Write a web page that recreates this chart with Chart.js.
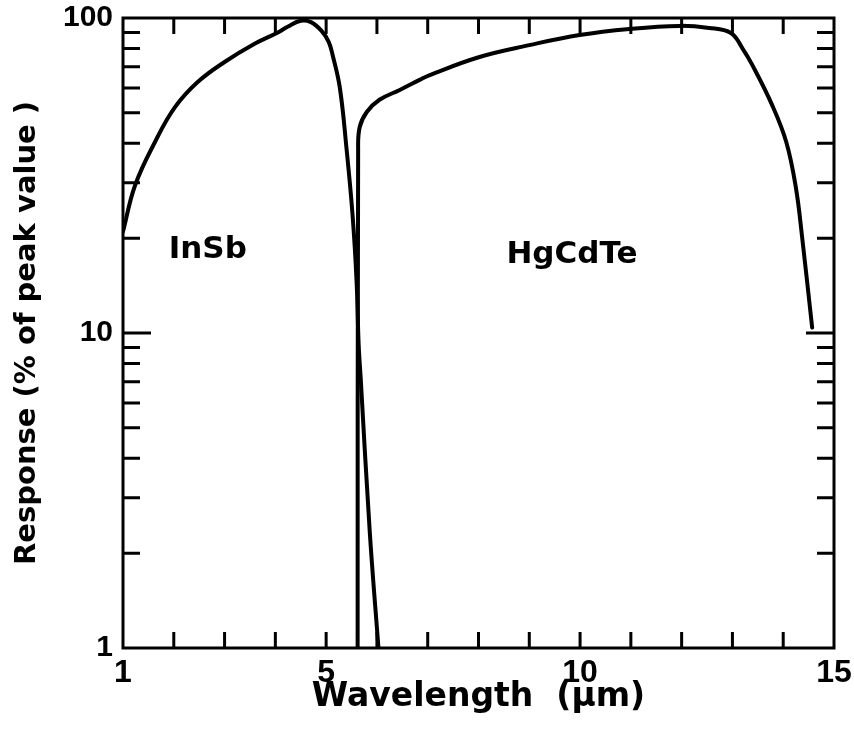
<!DOCTYPE html>
<html>
<head>
<meta charset="utf-8">
<title>Detector response: InSb and HgCdTe</title>
<script src="https://cdn.jsdelivr.net/npm/chart.js@4.4.1/dist/chart.umd.min.js"></script>
<style>
  html, body { margin: 0; padding: 0; background: #fff; }
  #chart { display: block; }
</style>
</head>
<body>
<canvas id="chart" width="854" height="745"></canvas>
<script>
const TITLE_FONT = "'DejaVu Sans', 'Liberation Sans', sans-serif";
const TICK_FONT = "'Liberation Sans', 'DejaVu Sans', sans-serif";

// InSb response curve (wavelength in um, % of peak)
const insbWavelength = [1.0, 1.24, 1.63, 2.02, 2.47, 3.0, 3.6, 4.05, 4.25, 4.5, 4.7, 4.91, 5.05, 5.13, 5.27, 5.4, 5.52, 5.6, 5.64, 5.68, 5.86, 6.03];
const insbResponse = [21, 29.5, 40.4, 52, 62.6, 72.5, 83, 90, 94, 98, 97, 91, 84, 76, 60, 38.7, 23.7, 14.5, 9.2, 7.2, 2.32, 1];

// HgCdTe response curve
const hgcdteWavelength = [5.62, 5.63, 5.66, 5.8, 6.05, 6.45, 6.84, 7.04, 8.02, 9.0, 9.99, 10.97, 11.95, 12.54, 12.97, 13.2, 13.39, 13.78, 14.06, 14.25, 14.37, 14.57];
const hgcdteResponse = [1, 38, 45, 50.3, 55, 59.1, 63.6, 65.9, 75.2, 82, 88.3, 92.3, 94.4, 93, 89.6, 80, 71, 53, 40.4, 28.9, 20.3, 10.4];

// axis ticks
const xTickMarks = [2, 3, 4, 5, 6, 7, 8, 9, 10, 11, 12, 13, 14];
const xTickLabels = [1, 5, 10, 15];
const yTickMarks = [2, 3, 4, 5, 6, 7, 8, 9, 10, 20, 30, 40, 50, 60, 70, 80, 90];
const yMajorMarks = [10];
const yTickLabels = [1, 10, 100];

// curve names placed inside the plot
const curveNames = ["InSb", "HgCdTe"];
const curveNameX = [2.67, 9.84];
const curveNameY = [18.4, 17.7];

function toPoints(xs, ys) {
  return xs.map((x, i) => ({ x, y: ys[i] }));
}

// frame, inward tick marks and the curve names
const framePlugin = {
  id: "frame",
  afterDatasetsDraw(chart) {
    const { ctx, chartArea: area, scales } = chart;
    const { left, right, top, bottom } = area;
    ctx.save();
    ctx.strokeStyle = "#000";
    ctx.lineWidth = 3;
    ctx.lineCap = "butt";
    ctx.strokeRect(left, top, right - left, bottom - top);

    ctx.beginPath();
    xTickMarks.forEach((v) => {
      const px = scales.x.getPixelForValue(v);
      ctx.moveTo(px, bottom);
      ctx.lineTo(px, bottom - 16);
      ctx.moveTo(px, top);
      ctx.lineTo(px, top + 16);
    });
    yTickMarks.forEach((v) => {
      const py = scales.y.getPixelForValue(v);
      const len = yMajorMarks.includes(v) ? 28 : 17;
      ctx.moveTo(left, py);
      ctx.lineTo(left + len, py);
      ctx.moveTo(right, py);
      ctx.lineTo(right - len, py);
    });
    ctx.stroke();

    ctx.fillStyle = "#000";
    ctx.font = `bold 31px ${TITLE_FONT}`;
    ctx.textAlign = "center";
    ctx.textBaseline = "middle";
    curveNames.forEach((name, i) => {
      ctx.fillText(name, scales.x.getPixelForValue(curveNameX[i]), scales.y.getPixelForValue(curveNameY[i]));
    });
    ctx.restore();
  },
};

const lineStyle = {
  borderColor: "#000",
  backgroundColor: "transparent",
  borderWidth: 4,
  pointRadius: 0,
  showLine: true,
  tension: 0.4,
  borderCapStyle: "round",
  borderJoinStyle: "round",
};

new Chart(document.getElementById("chart"), {
  type: "scatter",
  data: {
    datasets: [
      { label: "InSb", data: toPoints(insbWavelength, insbResponse), ...lineStyle },
      { label: "HgCdTe", data: toPoints(hgcdteWavelength, hgcdteResponse), ...lineStyle },
    ],
  },
  options: {
    responsive: false,
    animation: false,
    devicePixelRatio: 1,
    layout: { padding: { top: 18, right: 20, left: 0, bottom: 0 } },
    plugins: {
      legend: { display: false },
      tooltip: { enabled: false },
    },
    scales: {
      x: {
        type: "linear",
        min: 1,
        max: 15,
        grid: { display: false, drawTicks: false },
        border: { display: false },
        afterBuildTicks: (scale) => {
          scale.ticks = xTickLabels.map((value) => ({ value }));
        },
        afterFit: (scale) => {
          scale.height = 97;
          scale.paddingLeft = 0;
          scale.paddingRight = 0;
        },
        ticks: {
          color: "#000",
          font: { family: TICK_FONT, size: 32, weight: "bold" },
          padding: 6,
          maxRotation: 0,
          autoSkip: false,
          callback: (value) => String(value),
        },
        title: {
          display: true,
          text: "Wavelength  (μm)",
          color: "#000",
          font: { family: TITLE_FONT, size: 33, weight: "bold" },
          padding: { top: 0, bottom: 28 },
        },
      },
      y: {
        type: "logarithmic",
        min: 1,
        max: 100,
        grid: { display: false, drawTicks: false },
        border: { display: false },
        afterBuildTicks: (scale) => {
          scale.ticks = yTickLabels.map((value) => ({ value }));
        },
        afterFit: (scale) => {
          scale.width = 123;
          scale.paddingTop = 0;
          scale.paddingBottom = 0;
        },
        ticks: {
          color: "#000",
          font: { family: TICK_FONT, size: 30, weight: "bold" },
          padding: 10,
          autoSkip: false,
          callback: (value) => String(value),
        },
        title: {
          display: true,
          text: "Response (% of peak value )",
          color: "#000",
          font: { family: TITLE_FONT, size: 29, weight: "bold" },
          padding: { top: 10, bottom: 0 },
        },
      },
    },
  },
  plugins: [framePlugin],
});
</script>
</body>
</html>
